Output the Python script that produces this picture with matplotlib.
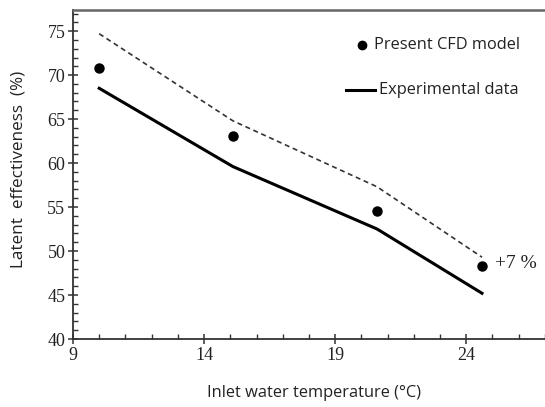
import matplotlib

matplotlib.use("Agg")
import matplotlib.pyplot as plt
from matplotlib.ticker import MultipleLocator

# data
cfd_temp = [10.0, 15.1, 20.6, 24.6]
cfd_eff = [70.8, 63.1, 54.6, 48.3]

exp_temp = [10.0, 15.1, 20.6, 24.6]
exp_eff = [68.5, 59.6, 52.5, 45.2]

upper_temp = [10.0, 15.1, 20.6, 24.6]
upper_eff = [74.7, 64.8, 57.3, 49.3]

x_ticks = [9, 14, 19, 24]
y_ticks = [40, 45, 50, 55, 60, 65, 70, 75]

W, H = 545, 407
fig = plt.figure(figsize=(W / 100, H / 100), dpi=100)
ax = fig.add_axes([73 / W, 1 - 339 / H, (W - 73) / W + 0.01, (339 - 10) / H])

ax.plot(upper_temp, upper_eff, color="#333333", linestyle=(0, (3, 2.2)), linewidth=1.2)
ax.plot(exp_temp, exp_eff, color="black", linewidth=2.2)
ax.plot(cfd_temp, cfd_eff, "o", color="black", markersize=6.5, linestyle="none")

ax.text(cfd_temp[-1] + 0.5, cfd_eff[-1] + 0.3, "+7 %", family="Liberation Serif",
        fontsize=14, va="center", ha="left", color="#222222")

# legend drawn by hand, in axes coordinates
ax.plot([0.605], [0.893], "o", color="black", markersize=6, transform=ax.transAxes,
        clip_on=False)
ax.text(0.630, 0.893, "Present CFD model", transform=ax.transAxes, family="Open Sans",
        fontsize=11.8, va="center", ha="left", color="#222222")
ax.plot([0.571, 0.632], [0.757, 0.757], color="black", linewidth=2.2,
        transform=ax.transAxes)
ax.text(0.640, 0.757, "Experimental data", transform=ax.transAxes, family="Open Sans",
        fontsize=11.8, va="center", ha="left", color="#222222")

ax.set_xlim(9, 9 + (W - 73) / 26.5 + 0.4)
ax.set_ylim(40, 77.4)
ax.set_xticks(x_ticks)
ax.set_yticks(y_ticks)
ax.xaxis.set_minor_locator(MultipleLocator(1))
ax.yaxis.set_minor_locator(MultipleLocator(1))
ax.tick_params(which="major", direction="inout", length=7, width=1.1, color="#333333",
               labelsize=13, pad=2)
ax.tick_params(which="minor", direction="in", length=3.5, width=1, color="#333333")
for lab in ax.get_xticklabels() + ax.get_yticklabels():
    lab.set_family("Liberation Serif")
    lab.set_color("#222222")

ax.spines["right"].set_visible(False)
for side in ("left", "bottom"):
    ax.spines[side].set_color("#333333")
    ax.spines[side].set_linewidth(1.3)
ax.spines["top"].set_color("#666666")
ax.spines["top"].set_linewidth(1.8)

fig.text(314 / W, 1 - 393 / H, "Inlet water temperature (°C)", family="Open Sans",
         fontsize=11.8, ha="center", va="center", color="#222222")
fig.text(19 / W, 1 - 169 / H, "Latent  effectiveness  (%)", family="Open Sans",
         fontsize=12.3, ha="center", va="center", rotation=90, color="#222222")

fig.savefig("out.png", dpi=100)
